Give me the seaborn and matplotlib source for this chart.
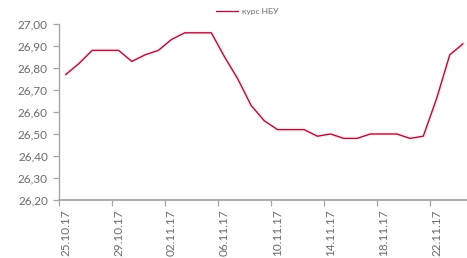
import matplotlib
matplotlib.use("Agg")
import matplotlib.pyplot as plt
import seaborn as sns
import pandas as pd

# курс НБУ, грн за 1 USD, щоденно з 25.10.17 по 24.11.17
dates = pd.date_range("2017-10-25", "2017-11-24", freq="D")
rate = [26.77, 26.82, 26.88, 26.88, 26.88, 26.83, 26.86, 26.88, 26.93, 26.96,
        26.96, 26.96, 26.85, 26.75, 26.63, 26.56, 26.52, 26.52, 26.52, 26.49,
        26.50, 26.48, 26.48, 26.50, 26.50, 26.50, 26.48, 26.49, 26.66, 26.86,
        26.91]
tick_labels = ["25.10.17", "29.10.17", "02.11.17", "06.11.17",
               "10.11.17", "14.11.17", "18.11.17", "22.11.17"]
y_ticks = [26.2, 26.3, 26.4, 26.5, 26.6, 26.7, 26.8, 26.9, 27.0]

df = pd.DataFrame({"day": range(len(dates)), "rate": rate})

sns.set_style("white")
plt.rcParams["font.family"] = ["Lato", "DejaVu Sans"]
grey = "#6b6b6b"
line_color = "#a8163f"

fig = plt.figure(figsize=(4.67, 2.58), dpi=100)
ax = fig.add_axes([59 / 467, 1 - 200 / 258, 1 - 59 / 467, (200 - 24) / 258])

# легке рожеве світіння під лінією, як в Excel
sns.lineplot(data=df, x="day", y="rate", ax=ax, color="#f2a0b4",
             linewidth=3.0, alpha=0.2, legend=False)
sns.lineplot(data=df, x="day", y="rate", ax=ax, color=line_color,
             linewidth=1.0, label="курс НБУ")

ax.set_ylim(26.2, 27.0)
ax.set_xlim(-0.5, 30.3)
ax.set_yticks(y_ticks)
ax.set_yticklabels([f"{v:.2f}".replace(".", ",") for v in y_ticks])
# підписи дат по центру дня, риски між днями (як у Excel)
ax.set_xticks([4 * k for k in range(len(tick_labels))])
ax.set_xticklabels(tick_labels, rotation=90)
ax.set_xticks([4 * k - 0.5 for k in range(len(tick_labels))], minor=True)
ax.set_xlabel("")
ax.set_ylabel("")

for side in ["top", "right"]:
    ax.spines[side].set_visible(False)
for side in ["left", "bottom"]:
    ax.spines[side].set_color("#a6a6a6")
ax.spines["bottom"].set_linewidth(1.3)
ax.spines["left"].set_linewidth(1.0)
ax.tick_params(axis="y", direction="out", length=4, width=0.9, left=True,
               color="#a6a6a6", labelcolor=grey, labelsize=8.5, pad=4)
ax.tick_params(axis="x", which="major", length=0, bottom=True,
               labelcolor=grey, labelsize=8.5, pad=7)
ax.tick_params(axis="x", which="minor", direction="out", length=4, width=0.9,
               bottom=True, color="#a6a6a6")

ax.get_legend().remove()
handles, labels = ax.get_legend_handles_labels()
fig.legend(handles[-1:], labels[-1:], loc="center", bbox_to_anchor=(0.53, 0.955),
           frameon=False, fontsize=6, labelcolor=grey, handlelength=2.6,
           handletextpad=0.5)

fig.savefig("out.png", dpi=100)
plt.close(fig)
